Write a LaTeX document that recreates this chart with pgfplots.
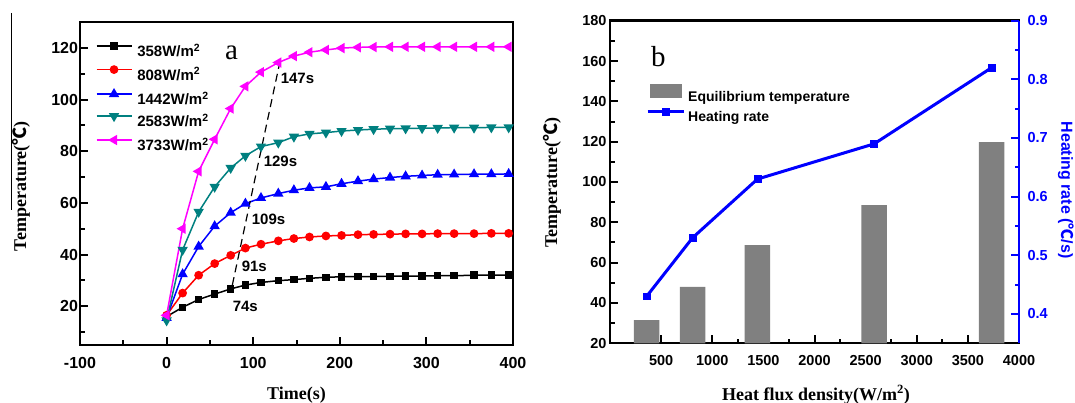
\documentclass[border=0pt]{standalone}
\usepackage{fontspec}
\setmainfont{Liberation Sans}
\newfontfamily\serif{Liberation Serif}
\newfontfamily\cjk{Noto Sans CJK SC}
\usepackage{pgfplots}
\pgfplotsset{compat=1.18}
\definecolor{tealc}{RGB}{0,128,128}
\definecolor{magc}{RGB}{255,0,255}
\definecolor{bargray}{RGB}{128,128,128}
\pgfplotsset{
  common/.style={
    scale only axis, anchor=south west,
    tick align=inside,
    major tick length=8pt, minor tick length=4.5pt,
    every tick/.style={line width=2pt},
    axis line style={line width=2.4pt},
    /pgf/number format/assume math mode=true,
    /pgf/number format/1000 sep={},
    xtick pos=left, ytick pos=left,
    xticklabel style={yshift=-9pt},
  },
  legA/.style={legend image code/.code={\draw[mark repeat=2,mark phase=2,##1] plot coordinates {(0pt,5pt) (17.5pt,5pt) (35pt,5pt)};}},
  legB/.style={legend image code/.code={\draw[mark repeat=2,mark phase=2,##1] plot coordinates {(-2pt,5pt) (16pt,5pt) (34pt,5pt)};}},
  legBar/.style={legend image code/.code={\fill[bargray] (0pt,-0.5pt) rectangle (32pt,13.5pt);}},
}
\begin{document}
\begin{tikzpicture}
% ---------------- panel a
\begin{axis}[common, at={(80pt,58pt)}, width=433pt, height=323pt,
  xmin=-100, xmax=400, ymin=5, ymax=130,
  xtick={-100,0,100,200,300,400}, minor xtick={-50,50,150,250,350},
  ytick={20,40,60,80,100,120}, minor ytick={10,30,50,70,90,110},
  tick label style={font=\fontsize{16}{16}\selectfont\bfseries},
  yticklabel style={xshift=1.5pt},
  xlabel={Time(s)}, ylabel={Temperature({\cjk ℃})},
  label style={font=\serif\bfseries\fontsize{18}{18}\selectfont},
  xlabel style={at={(rel axis cs:0.5,-0.170)}, anchor=base},
  ylabel style={at={(rel axis cs:-0.1363,0.4918)}, anchor=center},
  legend style={at={(rel axis cs:0.036,0.9354)}, anchor=north west, draw=none, fill=none,
    inner sep=0pt, row sep=7.9pt, column sep=5pt,
    font=\fontsize{15}{15}\selectfont\bfseries,
    nodes={inner sep=0pt}},
  legend cell align=left,
  legA,
  every axis plot/.append style={line width=1.5pt, mark options={solid}},
]
\addplot[black, mark=square*, mark size=3pt] coordinates {
(0,16) (18.5,19.6) (37,22.6) (55.5,24.7) (74,26.7) (91,28.2) (109,29.2) (129,29.9) (147,30.3) (165,30.8) (184,31.2) (202,31.4) (221,31.5) (239,31.5) (258,31.6) (276,31.7) (295,31.7) (313,31.8) (332,31.8) (355,32.0) (375,32.0) (395,32.0)};
\addlegendentry{358W/m\textsuperscript{2}}
\addplot[red, mark=*, mark size=3.6pt] coordinates {
(0,16.5) (18.5,25.1) (37,32.0) (55.5,36.5) (74,39.7) (91,42.5) (109,44.0) (129,45.3) (147,46.2) (165,46.8) (184,47.2) (202,47.4) (221,47.7) (239,47.8) (258,47.9) (276,48.0) (295,48.0) (313,48.1) (332,48.1) (355,48.1) (375,48.2) (395,48.2)};
\addlegendentry{808W/m\textsuperscript{2}}
\addplot[blue, mark=triangle*, mark size=4.5pt] coordinates {
(0,15.5) (18.5,32.4) (37,43.1) (55.5,51.0) (74,56.2) (91,59.7) (109,61.9) (129,63.6) (147,64.9) (165,65.8) (184,66.2) (202,67.4) (221,68.4) (239,69.2) (258,69.8) (276,70.3) (295,70.6) (313,70.9) (332,71.0) (355,71.1) (375,71.1) (395,71.2)};
\addlegendentry{1442W/m\textsuperscript{2}}
\addplot[tealc, mark=triangle*, mark size=4.5pt, mark options={rotate=180}] coordinates {
(0,14.5) (18.5,41.8) (37,56.5) (55.5,66.2) (74,73.5) (91,78.2) (109,81.8) (129,83.3) (147,85.6) (165,86.7) (184,87.2) (202,87.8) (221,88.2) (239,88.5) (258,88.7) (276,88.8) (295,88.9) (313,89.0) (332,89.1) (355,89.1) (375,89.2) (395,89.2)};
\addlegendentry{2583W/m\textsuperscript{2}}
\addplot[magc, mark=triangle*, mark size=4.5pt, mark options={rotate=90}] coordinates {
(0,16.5) (18.5,50.0) (37,72.2) (55.5,84.6) (74,96.5) (91,105.1) (109,110.6) (129,114.3) (147,116.8) (165,118.3) (184,119.2) (202,119.9) (221,120.2) (239,120.3) (258,120.4) (276,120.4) (295,120.4) (313,120.4) (332,120.4) (355,120.4) (375,120.4) (395,120.4)};
\addlegendentry{3733W/m\textsuperscript{2}}
\addplot[black, line width=1.2pt, dash pattern=on 8pt off 5pt, mark=none, forget plot] coordinates {(75.9,28.2) (130.8,114.5)};
\node[font=\serif\fontsize{29}{29}\selectfont, anchor=center] at (axis cs:75,117.9) {a};
\begin{scope}[every node/.style={font=\fontsize{15}{15}\selectfont\bfseries, anchor=west, inner sep=0pt}]
\node at (axis cs:131.6,108.2) {147s};
\node at (axis cs:112,76.1) {129s};
\node at (axis cs:98.2,53.7) {109s};
\node at (axis cs:86.6,35.5) {91s};
\node at (axis cs:76.2,20.1) {74s};
\end{scope}
\end{axis}
% ---------------- panel b, bars
\begin{axis}[common, at={(610pt,59.7pt)}, width=409pt, height=322.6pt,
  xmin=0, xmax=4000, ymin=20, ymax=180,
  xtick={500,1000,1500,2000,2500,3000,3500,4000}, minor xtick={250,750,1250,1750,2250,2750,3250,3750},
  ytick={20,40,60,80,100,120,140,160,180}, minor ytick={30,50,70,90,110,130,150,170},
  tick label style={font=\fontsize{14.5}{14.5}\selectfont\bfseries},
  xlabel={Heat flux density(W/m\textsuperscript{2})}, ylabel={Temperature({\cjk ℃})},
  label style={font=\serif\bfseries\fontsize{18}{18}\selectfont},
  xlabel style={at={(rel axis cs:0.5037,-0.1758)}, anchor=base},
  ylabel style={at={(rel axis cs:-0.1418,0.497)}, anchor=center},
  legend style={at={(rel axis cs:0.088,0.804)}, anchor=north west, draw=none, fill=none,
    inner sep=0pt, row sep=5pt, column sep=3pt,
    font=\fontsize{14}{14}\selectfont\bfseries,
    nodes={inner sep=0pt}},
  legend cell align=left,
]
\addplot[ybar, bar width=250, fill=bargray, draw=none, legBar]
  coordinates {(358,31.5) (808,48) (1442,68.7) (2583,88.5) (3733,119.8)};
\addlegendentry{Equilibrium temperature}
\addlegendimage{blue, line width=3pt, mark=square*, mark size=3.4pt, mark options={solid, line width=0.6pt}, legB}
\addlegendentry{Heating rate}
\node[font=\serif\fontsize{29}{29}\selectfont, anchor=center] at (axis cs:474,162) {b};
\end{axis}
% ---------------- panel b, heating rate
\begin{axis}[at={(610pt,59.7pt)}, anchor=south west, scale only axis, width=409pt, height=322.6pt,
  xmin=0, xmax=4000, ymin=0.35, ymax=0.9,
  axis x line=none, axis y line*=right,
  y axis line style={blue, line width=2.6pt},
  tick align=inside, major tick length=8pt, minor tick length=4.5pt,
  every tick/.style={blue, line width=2pt},
  /pgf/number format/assume math mode=true,
  ytick={0.4,0.5,0.6,0.7,0.8,0.9}, minor ytick={0.45,0.55,0.65,0.75,0.85},
  yticklabel style={blue, font=\fontsize{14.5}{14.5}\selectfont\bfseries, xshift=5pt},
  ylabel={Heating rate\ ({\cjk ℃}/s)},
  ylabel style={blue, font=\fontsize{16}{16}\selectfont\bfseries, at={(rel axis cs:1.115,0.475)}, anchor=center, rotate=180},
]
\addplot[blue, line width=3pt, mark=square*, mark size=3.4pt, mark options={solid, line width=0.6pt}]
  coordinates {(358,0.43) (808,0.53) (1442,0.63) (2583,0.69) (3733,0.82)};
\end{axis}
\draw[line width=1pt] (11.5pt,390pt) -- (11.5pt,193pt);
\pgfresetboundingbox
\path[use as bounding box] (0pt,0pt) rectangle (1075pt,403pt);
\end{tikzpicture}
\end{document}
